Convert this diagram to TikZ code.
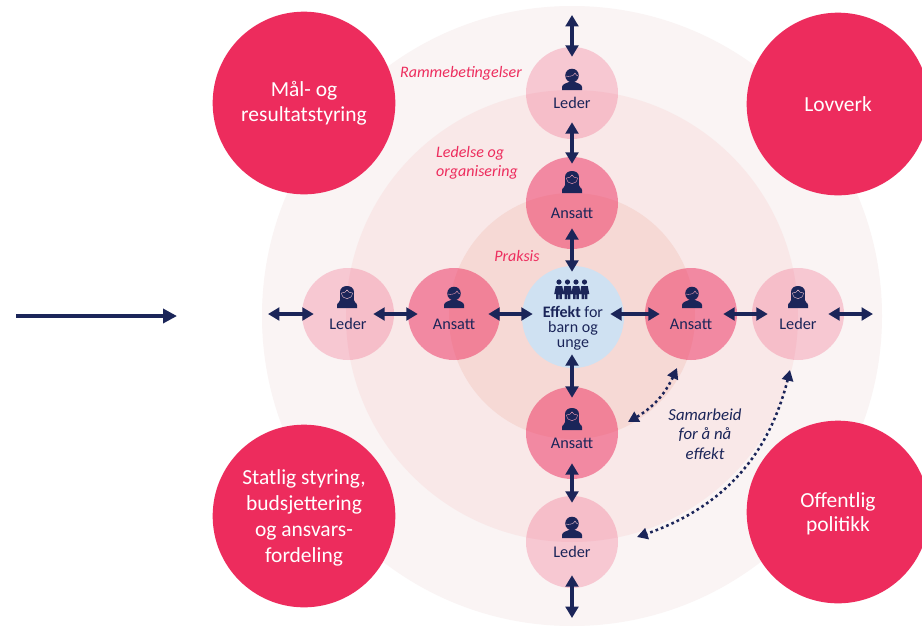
\documentclass[tikz,border=0pt]{standalone}
\usepackage{fontspec}
\setmainfont{Carlito}
\usetikzlibrary{arrows.meta,bending}
\definecolor{navy}{HTML}{1B2559}
\definecolor{hotred}{HTML}{ED2C5D}
\definecolor{ringa}{HTML}{FAF4F4}
\definecolor{ringb}{HTML}{F9E8E8}
\definecolor{ringc}{HTML}{F6D9D5}
\definecolor{effblue}{HTML}{CFE1F2}
\tikzset{
  x=0.75pt,y=-0.75pt,
  ring/.style={circle,inner sep=0pt,minimum size=#1*0.75pt},
  bigred/.style={circle,inner sep=0pt,minimum size=137pt,fill=hotred,text=white,align=center,
    font=\fontsize{16.1}{18.4}\selectfont},
  staff/.style={circle,inner sep=0pt,minimum size=69pt,fill=hotred,fill opacity=.5,
    label={[text=navy,text opacity=1,fill opacity=1,font=\fontsize{12.2}{13}\selectfont,yshift=-7.5pt]center:#1}},
  boss/.style={circle,inner sep=0pt,minimum size=69pt,fill=hotred,fill opacity=.22,
    label={[text=navy,text opacity=1,fill opacity=1,font=\fontsize{12.2}{13}\selectfont,yshift=-7.5pt]center:#1}},
  biarrow/.style={navy,line width=2.4pt,{Triangle[length=8.5pt,width=9.5pt]}-{Triangle[length=8.5pt,width=9.5pt]}},
  sh/.style 2 args={shorten <=-#1*0.75pt,shorten >=-#2*0.75pt},
  dotlink/.style={navy,line width=1.9pt,dash pattern=on 2pt off 2.3pt,
    {Triangle[length=8pt,width=8.5pt,flex]}-{Triangle[length=8pt,width=8.5pt,flex]}},
  ringlabel/.style={text=hotred,font=\fontsize{12}{14.6}\selectfont\itshape,align=left},
  pics/man/.style={code={
    \fill[navy] (-10,0) -- (-10,-3) .. controls (-10,-6) and (-5,-7) .. (-3,-8) -- (3,-8)
      .. controls (5,-7) and (10,-6) .. (10,-3) -- (10,0) -- cycle;
    \fill[navy] (0,-14.5) circle[radius=6.8];
    \draw[#1,line width=.3pt] (-6.5,-14) .. controls (-3,-13) and (2,-14) .. (3,-17)
      .. controls (4,-15) and (5,-14) .. (6.5,-14);
  }},
  pics/woman/.style={code={
    \fill[navy] (-10,0) -- (-10,-3) .. controls (-10,-6) and (-5,-7) .. (-3,-8) -- (3,-8)
      .. controls (5,-7) and (10,-6) .. (10,-3) -- (10,0) -- cycle;
    \fill[navy] (-8,-6) .. controls (-6,-8) and (-7,-12) .. (-7,-16)
      .. controls (-7,-24) and (7,-24) .. (7,-16)
      .. controls (7,-12) and (6,-8) .. (8,-6) -- cycle;
    \draw[#1,line width=.3pt] (-5.5,-15) .. controls (-5,-7.5) and (5,-7.5) .. (5.5,-15)
      .. controls (3,-15) and (1,-16) .. (0,-18) .. controls (-1,-16) and (-3,-15) .. (-5.5,-15);
  }},
  pics/kid/.style={code={
    \fill[navy] (0,-17) circle[radius=2.6];
    \fill[navy] (-4.8,-5) -- (-3.2,-13) -- (3.2,-13) -- (4.8,-5) -- (2.9,-5) -- (2.9,0)
      -- (0.4,0) -- (0.4,-4.5) -- (-0.4,-4.5) -- (-0.4,0) -- (-2.9,0) -- (-2.9,-5) -- cycle;
  }},
}
\begin{document}
\begin{tikzpicture}
\useasboundingbox (0,0) rectangle (922,626);
\clip (0,0) rectangle (922,626);
\fill[white] (0,0) rectangle (922,626);
% rings
\node[ring=620,fill=ringa] (outer) at (572,316) {};
\node[ring=452,fill=ringb] (middle) at (572,316) {};
\node[ring=246,fill=ringc] (inner) at (572,316) {};
% big circles
\node[bigred] (mal) at (304,103) {\rule{0pt}{12pt}Mål- og\\resultatstyring};
\node[bigred] (lov) at (838,104) {Lovverk};
\node[bigred,font=\fontsize{16.1}{19.6}\selectfont] (statlig) at (304,516) {\rule{0pt}{14pt}Statlig styring,\\budsjettering\\og ansvars-\\fordeling};
\node[bigred] (off) at (838,512) {\rule{0pt}{14pt}Offentlig\\politikk};
% people
\node[boss=Leder] (ldrT) at (572,93) {};
\node[staff=Ansatt] (ansT) at (572,203) {};
\node[boss=Leder] (ldrL) at (348,314) {};
\node[staff=Ansatt] (ansL) at (454,314) {};
\node[staff=Ansatt] (ansR) at (691,314) {};
\node[boss=Leder] (ldrR) at (798,314) {};
\node[staff=Ansatt] (ansB) at (572,433) {};
\node[boss=Leder] (ldrB) at (572,542) {};
\node[circle,inner sep=0pt,minimum size=76.5pt,fill=effblue,text=navy,align=center,
  font=\fontsize{12}{11.3}\selectfont] (eff) at (573,317) {\rule{0pt}{13pt}\\[1pt]\textbf{Effekt} for\\barn og\\unge};
% icons
\pic at (572,90) {man=hotred!35};
\pic at (572,193) {woman=hotred!45};
\pic at (347,308) {woman=hotred!25};
\pic at (454,308) {man=hotred!45};
\pic at (692,308) {man=hotred!45};
\pic at (798,308) {woman=hotred!25};
\pic at (572,430) {woman=hotred!45};
\pic at (572,538) {man=hotred!25};
\pic at (559,299) {kid};
\pic at (567.5,299) {kid};
\pic at (576,299) {kid};
\pic at (584.5,299) {kid};
% free ends
\coordinate (freeT) at (572,15);
\coordinate (freeB) at (572,618);
\coordinate (freeL) at (268,314);
\coordinate (freeR) at (873,314);
\coordinate (mainA) at (16,316);
\coordinate (mainB) at (177,316);
\coordinate (d1a) at (677,368);
\coordinate (d1b) at (628,422);
\coordinate (d2a) at (790,370);
\coordinate (d2b) at (637,537);
% connectors
\draw[biarrow,sh={0}{10}] (freeT) -- (ldrT.north);
\draw[biarrow,sh={17}{7}] (ldrT.south) -- (ansT.north);
\draw[biarrow,sh={21}{6}] (ansT.south) -- (eff.north -| ansT.south);
\draw[biarrow,sh={14}{11}] (eff.south -| ansB.north) -- (ansB.north);
\draw[biarrow,sh={16}{7}] (ansB.south) -- (ldrB.north);
\draw[biarrow,sh={13}{0}] (ldrB.south) -- (freeB);
\begin{scope}[yshift=-1.5pt]
\draw[biarrow,sh={0}{12}] (freeL) -- (ldrL.west);
\draw[biarrow,sh={21}{10}] (ldrL.east) -- (ansL.west);
\draw[biarrow,sh={12}{11}] (ansL.east) -- (eff.west |- ansL.east);
\draw[biarrow,sh={14}{15}] (eff.east |- ansR.west) -- (ansR.west);
\draw[biarrow,sh={14}{16}] (ansR.east) -- (ldrR.west);
\draw[biarrow,sh={16}{0}] (ldrR.east) -- (freeR);
\end{scope}
\draw[navy,line width=2.8pt,-{Triangle[length=10.5pt,width=10.5pt]}] (mainA) -- (mainB);
\draw[dotlink] (d1a) to[bend left=20] (d1b);
\draw[dotlink] (d2a) to[bend left=30] (d2b);
% labels
\node[ringlabel] (lblRamme) at (461,73) {Rammebetingelser};
\node[ringlabel] (lblLedelse) at (477,163) {Ledelse og\\organisering};
\node[ringlabel] (lblPraksis) at (517,256) {Praksis};
\node[ringlabel,text=navy,align=center,font=\fontsize{12.6}{14.6}\selectfont\itshape] (lblSam) at (705,434) {Samarbeid\\for å nå\\effekt};
\end{tikzpicture}
\end{document}
